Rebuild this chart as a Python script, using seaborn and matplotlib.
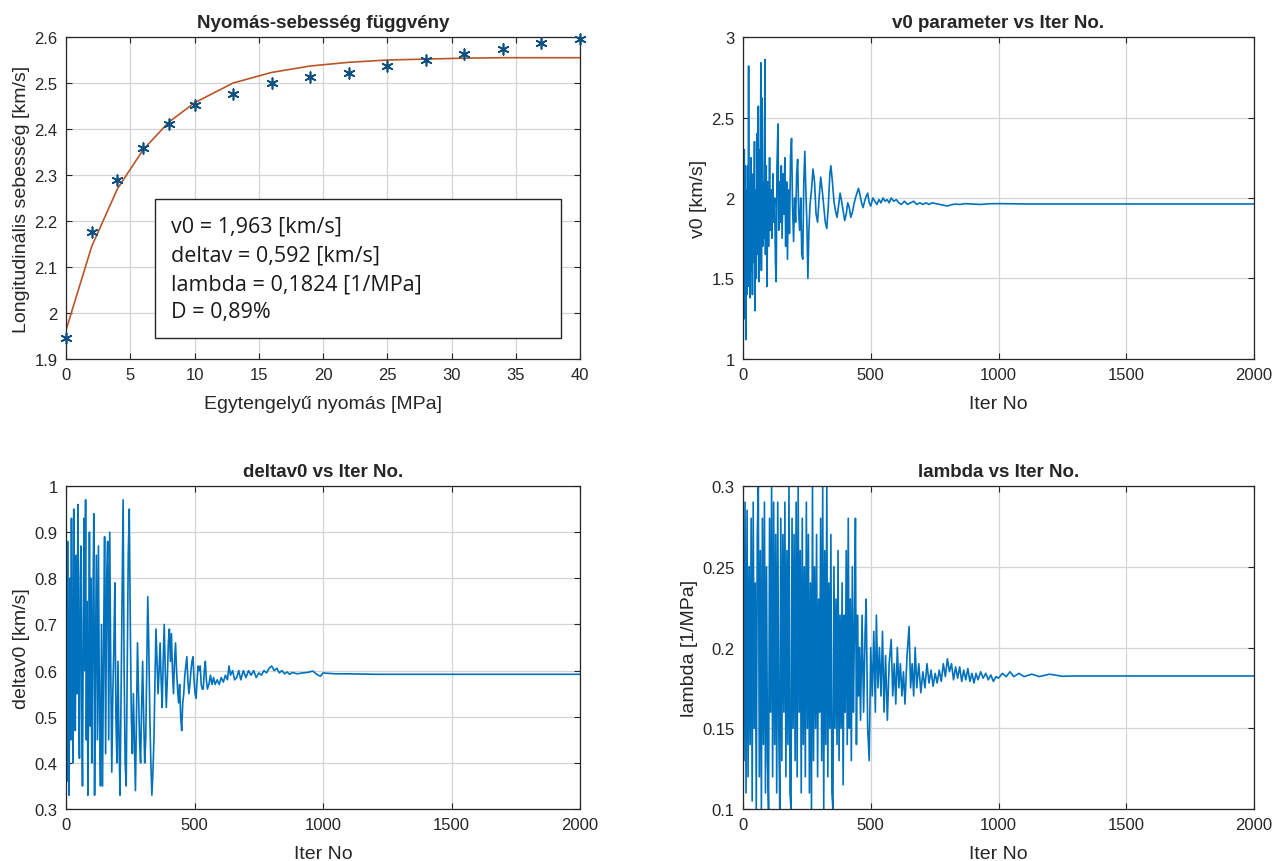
import numpy as np
import pandas as pd
import seaborn as sns
import matplotlib
matplotlib.use("Agg")
import matplotlib.pyplot as plt
from matplotlib.ticker import FuncFormatter, MultipleLocator
from matplotlib.patches import Rectangle

# ---------------- data ----------------
pressure = [0, 2, 4, 6, 8, 10, 13, 16, 19, 22, 25, 28, 31, 34, 37, 40]
velocity_measured = [1.945, 2.175, 2.29, 2.358, 2.41, 2.453, 2.477, 2.50, 2.514,
                     2.522, 2.537, 2.551, 2.562, 2.573, 2.587, 2.595]
velocity_fit = [1.963, 2.145, 2.27, 2.355, 2.415, 2.457, 2.50, 2.523, 2.537,
                2.545, 2.55, 2.552, 2.554, 2.555, 2.555, 2.555]
fit_text = ["v0 = 1,963 [km/s]", "deltav = 0,592 [km/s]",
            "lambda = 0,1824 [1/MPa]", "D = 0,89%"]

v0_iter = [0, 3, 5, 7, 9, 11, 13, 15, 18, 20, 22, 24, 26, 28, 31, 33, 35, 37, 40, 42,
           45, 47, 50, 52, 55, 57, 60, 62, 65, 67, 70, 72, 75, 77, 80, 82, 86, 88, 91, 94,
           97, 100, 104, 107, 110, 113, 117, 120, 124, 127, 130, 133, 137, 140, 143, 146,
           150, 153, 157, 160, 164, 167, 171, 174, 178, 182, 186, 190, 194, 198, 202, 206,
           210, 214, 218, 222, 226, 230, 234, 238, 242, 246, 250, 254, 258, 262, 268, 274,
           280, 286, 292, 298, 304, 310, 316, 322, 328, 334, 340, 344, 350, 356, 362, 368,
           374, 380, 386, 392, 398, 404, 410, 416, 422, 428, 434, 440, 446, 452, 458, 464,
           470, 476, 482, 488, 494, 500, 508, 516, 524, 532, 540, 548, 556, 564, 572, 580,
           590, 600, 610, 620, 632, 644, 656, 668, 680, 692, 704, 716, 728, 740, 755, 770,
           785, 800, 815, 830, 850, 870, 900, 930, 960, 1000, 1100, 1500, 2000]
v0_vals = [2.45, 1.60, 2.30, 1.25, 2.20, 1.12, 2.05, 1.40, 2.20, 1.55, 2.82, 1.45, 2.10,
           1.38, 2.25, 1.55, 2.00, 1.40, 2.15, 1.60, 2.35, 1.30, 2.05, 1.50, 2.40, 1.65,
           2.57, 1.48, 2.30, 1.60, 2.84, 1.55, 2.62, 1.70, 2.10, 1.75, 2.86, 1.65, 2.20,
           1.45, 2.10, 1.70, 2.25, 1.80, 2.05, 1.75, 2.15, 1.85, 2.00, 1.60, 1.48, 2.20,
           2.46, 1.80, 2.10, 1.85, 2.20, 1.75, 2.15, 1.90, 2.25, 1.70, 2.10, 1.62, 2.05,
           1.78, 2.25, 2.37, 1.95, 1.73, 2.00, 1.85, 2.15, 2.24, 1.90, 1.80, 2.00, 1.65,
           1.62, 2.10, 2.29, 2.05, 1.85, 1.50, 1.80, 1.95, 2.05, 2.18, 2.10, 1.90, 1.85,
           2.00, 2.13, 2.05, 1.95, 1.85, 1.81, 1.95, 2.15, 2.20, 2.10, 1.98, 1.92, 1.88,
           1.95, 2.03, 1.98, 1.92, 1.86, 1.90, 1.97, 1.94, 1.88, 1.91, 1.96, 2.00, 2.03,
           2.06, 2.02, 1.97, 1.94, 1.98, 2.01, 2.03, 1.97, 1.95, 2.00, 1.98, 1.96, 1.99,
           1.97, 2.00, 1.98, 1.99, 1.97, 2.00, 1.98, 1.99, 1.97, 1.96, 1.98, 1.96, 1.97,
           1.98, 1.96, 1.97, 1.96, 1.97, 1.96, 1.97, 1.965, 1.96, 1.955, 1.95, 1.958,
           1.962, 1.96, 1.965, 1.962, 1.96, 1.964, 1.965, 1.963, 1.963, 1.963]

dv_iter = [0, 3, 6, 9, 12, 15, 18, 21, 24, 27, 30, 33, 36, 40, 43, 46, 49, 52, 55, 58,
           61, 64, 67, 70, 73, 76, 79, 82, 85, 88, 91, 94, 97, 100, 104, 108, 111, 114,
           118, 122, 126, 130, 134, 138, 142, 146, 150, 154, 158, 162, 166, 170, 174, 178,
           182, 186, 190, 194, 198, 202, 206, 210, 214, 218, 222, 226, 230, 234, 238, 242,
           246, 250, 254, 258, 262, 266, 270, 274, 278, 282, 286, 290, 294, 298, 302, 306,
           310, 314, 318, 322, 326, 330, 334, 338, 342, 346, 350, 354, 358, 362, 366, 370,
           374, 378, 382, 386, 390, 394, 398, 402, 406, 410, 414, 418, 422, 426, 430, 434,
           438, 442, 446, 450, 454, 458, 462, 466, 470, 474, 478, 482, 486, 490, 494, 498,
           502, 506, 510, 514, 518, 522, 526, 530, 534, 538, 542, 546, 550, 556, 562, 568,
           574, 580, 588, 596, 604, 612, 620, 628, 634, 640, 648, 656, 664, 672, 680, 690,
           700, 710, 720, 730, 740, 750, 760, 770, 780, 790, 800, 810, 820, 830, 840, 850,
           860, 870, 880, 900, 920, 940, 960, 980, 990, 1000, 1020, 1050, 1100, 1200, 2000]
dv_vals = [0.90, 0.36, 0.88, 0.50, 0.33, 0.80, 0.45, 0.93, 0.55, 0.40, 0.95, 0.60, 0.47,
           0.85, 0.55, 0.96, 0.58, 0.41, 0.80, 0.87, 0.50, 0.35, 0.70, 0.93, 0.60, 0.97,
           0.45, 0.75, 0.33, 0.55, 0.90, 0.48, 0.80, 0.40, 0.70, 0.94, 0.33, 0.60, 0.85,
           0.45, 0.87, 0.50, 0.35, 0.70, 0.35, 0.65, 0.89, 0.42, 0.80, 0.88, 0.45, 0.90,
           0.60, 0.38, 0.55, 0.65, 0.79, 0.50, 0.40, 0.62, 0.45, 0.33, 0.55, 0.75, 0.97,
           0.60, 0.40, 0.35, 0.60, 0.85, 0.95, 0.70, 0.50, 0.42, 0.55, 0.45, 0.34, 0.50,
           0.66, 0.55, 0.45, 0.40, 0.52, 0.62, 0.50, 0.40, 0.45, 0.60, 0.76, 0.65, 0.50,
           0.40, 0.33, 0.38, 0.45, 0.58, 0.69, 0.62, 0.55, 0.60, 0.66, 0.58, 0.52, 0.62,
           0.70, 0.60, 0.52, 0.58, 0.66, 0.69, 0.62, 0.68, 0.60, 0.55, 0.62, 0.66, 0.60,
           0.56, 0.53, 0.57, 0.50, 0.47, 0.53, 0.55, 0.59, 0.61, 0.63, 0.58, 0.55, 0.57,
           0.60, 0.62, 0.63, 0.58, 0.55, 0.54, 0.58, 0.61, 0.60, 0.61, 0.57, 0.56, 0.56,
           0.60, 0.62, 0.58, 0.56, 0.57, 0.59, 0.57, 0.585, 0.57, 0.58, 0.57, 0.585, 0.575,
           0.59, 0.58, 0.61, 0.59, 0.60, 0.58, 0.585, 0.60, 0.58, 0.60, 0.585, 0.60, 0.59,
           0.60, 0.585, 0.595, 0.59, 0.60, 0.595, 0.605, 0.61, 0.60, 0.605, 0.595, 0.60,
           0.593, 0.597, 0.592, 0.596, 0.593, 0.595, 0.596, 0.599, 0.59, 0.588, 0.595,
           0.594, 0.593, 0.593, 0.592, 0.592]

lam_iter = [0, 4, 8, 12, 16, 20, 24, 28, 32, 36, 40, 44, 48, 52, 56, 60, 64, 68, 72, 76,
            80, 84, 88, 92, 96, 100, 104, 108, 112, 116, 120, 124, 128, 132, 136, 140, 144,
            148, 152, 156, 160, 164, 168, 172, 176, 180, 184, 188, 192, 196, 200, 204, 208,
            212, 216, 220, 224, 228, 232, 236, 240, 244, 248, 252, 256, 260, 264, 268, 272,
            276, 280, 284, 288, 292, 296, 300, 304, 308, 312, 316, 320, 324, 328, 332, 336,
            340, 344, 348, 352, 356, 360, 364, 368, 372, 376, 380, 384, 388, 392, 396, 400,
            404, 408, 412, 416, 420, 424, 428, 432, 436, 440, 444, 448, 452, 456, 460, 466,
            472, 478, 482, 488, 494, 500, 506, 512, 518, 522, 528, 534, 540, 546, 552, 558,
            565, 572, 580, 586, 592, 598, 604, 610, 616, 622, 628, 634, 642, 650, 656, 662,
            668, 674, 680, 688, 696, 704, 712, 720, 728, 736, 744, 752, 760, 768, 776, 784,
            792, 800, 808, 816, 824, 832, 840, 848, 856, 864, 872, 880, 888, 896, 904, 912,
            920, 930, 940, 950, 960, 970, 980, 990, 1000, 1015, 1030, 1045, 1060, 1080, 1100,
            1130, 1160, 1200, 1250, 1300, 2000]
lam_vals = [0.27, 0.13, 0.29, 0.11, 0.285, 0.12, 0.25, 0.14, 0.28, 0.105, 0.29, 0.15, 0.24,
            0.10, 0.27, 0.30, 0.12, 0.26, 0.10, 0.28, 0.14, 0.29, 0.11, 0.25, 0.13, 0.10,
            0.28, 0.16, 0.30, 0.12, 0.29, 0.14, 0.27, 0.11, 0.29, 0.15, 0.10, 0.28, 0.13,
            0.27, 0.16, 0.29, 0.12, 0.26, 0.14, 0.30, 0.11, 0.10, 0.28, 0.15, 0.27, 0.13,
            0.29, 0.12, 0.30, 0.16, 0.26, 0.11, 0.28, 0.14, 0.25, 0.12, 0.29, 0.15, 0.27,
            0.11, 0.24, 0.10, 0.30, 0.13, 0.25, 0.15, 0.27, 0.12, 0.23, 0.16, 0.28, 0.13,
            0.30, 0.10, 0.26, 0.14, 0.30, 0.12, 0.24, 0.15, 0.27, 0.11, 0.10, 0.25, 0.15,
            0.23, 0.14, 0.26, 0.13, 0.22, 0.15, 0.24, 0.115, 0.22, 0.16, 0.26, 0.14, 0.28,
            0.15, 0.23, 0.13, 0.25, 0.16, 0.21, 0.28, 0.14, 0.22, 0.17, 0.20, 0.155, 0.22,
            0.16, 0.21, 0.23, 0.15, 0.13, 0.20, 0.17, 0.21, 0.16, 0.22, 0.175, 0.20, 0.17,
            0.21, 0.16, 0.195, 0.155, 0.19, 0.205, 0.17, 0.19, 0.165, 0.20, 0.175, 0.19,
            0.17, 0.185, 0.165, 0.195, 0.213, 0.175, 0.19, 0.17, 0.20, 0.175, 0.19, 0.172,
            0.185, 0.175, 0.19, 0.178, 0.186, 0.176, 0.184, 0.178, 0.186, 0.179, 0.19,
            0.182, 0.193, 0.185, 0.19, 0.18, 0.188, 0.181, 0.188, 0.179, 0.186, 0.18, 0.187,
            0.179, 0.184, 0.178, 0.184, 0.18, 0.185, 0.181, 0.184, 0.18, 0.183, 0.179,
            0.182, 0.181, 0.184, 0.182, 0.185, 0.182, 0.184, 0.182, 0.1835, 0.182, 0.1835,
            0.1822, 0.1824, 0.1824]

# ---------------- style ----------------
sns.set_style("ticks")
plt.rcParams["font.family"] = ["Liberation Sans", "DejaVu Sans"]
BLUE = "#0072BD"
ORANGE = "#B8562A"
TICK_FS = 12
LABEL_FS = 14
TITLE_FS = 13.5
LW = 1.2
XPAD = 9

fig = plt.figure(figsize=(12.85, 8.62), dpi=100)
ax_tl = fig.add_axes([0.0514, 0.5824, 0.400, 0.3735])
ax_tr = fig.add_axes([0.5782, 0.5824, 0.3977, 0.3735])
ax_bl = fig.add_axes([0.0514, 0.0603, 0.400, 0.3747])
ax_br = fig.add_axes([0.5782, 0.0603, 0.3977, 0.3747])

fmt = FuncFormatter(lambda v, p: f"{v:g}")


def matlab_axes(ax, xlim, ylim, xstep, ystep):
    ax.set_xlim(*xlim)
    ax.set_ylim(*ylim)
    ax.xaxis.set_major_locator(MultipleLocator(xstep))
    ax.yaxis.set_major_locator(MultipleLocator(ystep))
    ax.xaxis.set_major_formatter(fmt)
    ax.yaxis.set_major_formatter(fmt)
    ax.grid(True, color="#d4d4d4", linewidth=0.9)
    ax.set_axisbelow(True)
    for s in ax.spines.values():
        s.set_visible(True)
        s.set_color("#262626")
        s.set_linewidth(0.9)
    ax.tick_params(direction="in", top=True, right=True, length=4, width=0.8,
                   labelsize=TICK_FS, colors="#262626", pad=6)


# top-left: measured points + fit
df_tl = pd.DataFrame({"p": pressure, "meas": velocity_measured, "fit": velocity_fit})
sns.lineplot(data=df_tl, x="p", y="fit", ax=ax_tl, color=ORANGE, linewidth=1.2)
sns.scatterplot(data=df_tl, x="p", y="meas", ax=ax_tl, marker=(6, 2, 0), s=60,
                color="#0d4f80", linewidth=1.2, zorder=3, clip_on=False)
matlab_axes(ax_tl, (0, 40), (1.9, 2.6), 5, 0.1)
ax_tl.set_title("Nyomás-sebesség függvény", fontsize=TITLE_FS, fontweight="bold", pad=7)
ax_tl.set_xlabel("Egytengelyű nyomás [MPa]", fontsize=LABEL_FS, labelpad=XPAD)
ax_tl.set_ylabel("Longitudinális sebesség [km/s]", fontsize=LABEL_FS, labelpad=3)
ax_tl.add_patch(Rectangle((0.173, 0.065), 0.79, 0.432, transform=ax_tl.transAxes,
                          facecolor="white", edgecolor="#262626", linewidth=1.0, zorder=4))
for i, (t, yy) in enumerate(zip(fit_text, [0.413, 0.323, 0.233, 0.146])):
    ax_tl.text(0.204, yy, t, transform=ax_tl.transAxes, fontsize=15.5, va="center",
               ha="left", family=["Open Sans", "DejaVu Sans"], color="#1a1a1a", zorder=5)

# top-right: v0
df_v0 = pd.DataFrame({"it": v0_iter, "v": v0_vals})
sns.lineplot(data=df_v0, x="it", y="v", ax=ax_tr, color=BLUE, linewidth=LW, sort=False)
matlab_axes(ax_tr, (0, 2000), (1, 3), 500, 0.5)
ax_tr.set_title("v0 parameter vs Iter No.", fontsize=TITLE_FS, fontweight="bold", pad=7)
ax_tr.set_xlabel("Iter No", fontsize=LABEL_FS, labelpad=XPAD)
ax_tr.set_ylabel("v0 [km/s]", fontsize=LABEL_FS, labelpad=3)

# bottom-left: deltav0
df_dv = pd.DataFrame({"it": dv_iter, "v": dv_vals})
sns.lineplot(data=df_dv, x="it", y="v", ax=ax_bl, color=BLUE, linewidth=LW, sort=False)
matlab_axes(ax_bl, (0, 2000), (0.3, 1.0), 500, 0.1)
ax_bl.set_title("deltav0 vs Iter No.", fontsize=TITLE_FS, fontweight="bold", pad=7)
ax_bl.set_xlabel("Iter No", fontsize=LABEL_FS, labelpad=XPAD)
ax_bl.set_ylabel("deltav0 [km/s]", fontsize=LABEL_FS, labelpad=3)

# bottom-right: lambda
df_lam = pd.DataFrame({"it": lam_iter, "v": lam_vals})
sns.lineplot(data=df_lam, x="it", y="v", ax=ax_br, color=BLUE, linewidth=LW, sort=False)
matlab_axes(ax_br, (0, 2000), (0.1, 0.3), 500, 0.05)
ax_br.set_title("lambda vs Iter No.", fontsize=TITLE_FS, fontweight="bold", pad=7)
ax_br.set_xlabel("Iter No", fontsize=LABEL_FS, labelpad=XPAD)
ax_br.set_ylabel("lambda [1/MPa]", fontsize=LABEL_FS, labelpad=3)

fig.savefig("out.png", dpi=100, facecolor="white")
